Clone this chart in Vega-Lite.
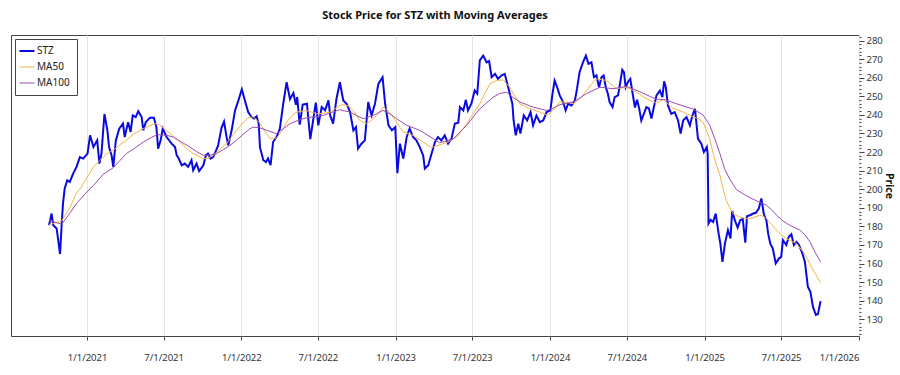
{
  "$schema": "https://vega.github.io/schema/vega-lite/v6.json",
  "width": 848,
  "height": 301,
  "autosize": {"type": "none"},
  "padding": {"left": 11, "top": 35, "right": 41, "bottom": 39},
  "background": "white",
  "config": {
    "font": "Noto Sans",
    "view": {"stroke": "#444444", "strokeWidth": 1}
  },
  "title": {
    "text": "Stock Price for STZ with Moving Averages",
    "fontSize": 11,
    "fontWeight": "bold",
    "font": "Noto Sans",
    "color": "#111111",
    "anchor": "middle",
    "offset": 14
  },
  "datasets": {
    "stz": [
      {"d":"2020-10-03","v":180.6},{"d":"2020-10-09","v":186.9},{"d":"2020-10-13","v":180.6},{"d":"2020-10-21","v":178.9},{"d":"2020-10-29","v":165.1},{"d":"2020-11-02","v":181.5},{"d":"2020-11-05","v":192.3},{"d":"2020-11-09","v":200.4},{"d":"2020-11-15","v":204.8},{"d":"2020-11-21","v":203.9},{"d":"2020-11-29","v":208.4},{"d":"2020-12-07","v":212},{"d":"2020-12-15","v":217.3},{"d":"2020-12-23","v":216.5},
      {"d":"2021-01-02","v":219.2},{"d":"2021-01-08","v":229},{"d":"2021-01-16","v":222.7},{"d":"2021-01-25","v":226.3},{"d":"2021-01-30","v":213.8},{"d":"2021-02-04","v":219.2},{"d":"2021-02-11","v":240.5},{"d":"2021-02-18","v":231.7},{"d":"2021-02-22","v":222.7},{"d":"2021-02-28","v":218.2},{"d":"2021-03-04","v":212},{"d":"2021-03-10","v":226.3},{"d":"2021-03-18","v":232.6},{"d":"2021-03-27","v":235.3},{"d":"2021-03-31","v":228.1},{"d":"2021-04-08","v":236.1},{"d":"2021-04-14","v":230.8},{"d":"2021-04-19","v":239.7},{"d":"2021-04-26","v":238.8},{"d":"2021-05-02","v":242},{"d":"2021-05-10","v":238.8},{"d":"2021-05-14","v":231.7},{"d":"2021-05-20","v":236.1},{"d":"2021-05-30","v":238.5},{"d":"2021-06-08","v":238.5},{"d":"2021-06-14","v":233.4},{"d":"2021-06-18","v":221.8},{"d":"2021-06-24","v":226.3},{"d":"2021-06-29","v":232.6},{"d":"2021-07-08","v":228.1},{"d":"2021-07-20","v":224.5},{"d":"2021-07-28","v":222.7},{"d":"2021-08-01","v":218.2},{"d":"2021-08-04","v":217.3},{"d":"2021-08-13","v":212.9},{"d":"2021-08-20","v":213.8},{"d":"2021-08-28","v":212},{"d":"2021-09-05","v":215.6},{"d":"2021-09-09","v":210.2},{"d":"2021-09-17","v":213.8},{"d":"2021-09-23","v":209.8},{"d":"2021-10-03","v":212.9},{"d":"2021-10-09","v":218.2},{"d":"2021-10-14","v":219.2},{"d":"2021-10-20","v":216.5},{"d":"2021-10-26","v":217.3},{"d":"2021-10-30","v":219.2},{"d":"2021-11-07","v":223.6},{"d":"2021-11-15","v":233},{"d":"2021-11-21","v":236.4},{"d":"2021-11-27","v":228},{"d":"2021-12-01","v":223.6},{"d":"2021-12-09","v":231.7},{"d":"2021-12-17","v":242.4},{"d":"2021-12-25","v":247.8},
      {"d":"2022-01-02","v":253.8},{"d":"2022-01-09","v":248},{"d":"2022-01-17","v":241.5},{"d":"2022-01-25","v":238.8},{"d":"2022-01-31","v":238},{"d":"2022-02-06","v":239.2},{"d":"2022-02-11","v":235.3},{"d":"2022-02-14","v":222.5},{"d":"2022-02-22","v":215.6},{"d":"2022-02-28","v":214.6},{"d":"2022-03-05","v":216.5},{"d":"2022-03-11","v":212.9},{"d":"2022-03-17","v":225.4},{"d":"2022-03-25","v":228.1},{"d":"2022-04-02","v":232.6},{"d":"2022-04-10","v":246},{"d":"2022-04-18","v":257.6},{"d":"2022-04-26","v":248.5},{"d":"2022-05-04","v":251.8},{"d":"2022-05-10","v":245.5},{"d":"2022-05-13","v":249.6},{"d":"2022-05-19","v":234.8},{"d":"2022-05-26","v":245.5},{"d":"2022-06-05","v":246},{"d":"2022-06-13","v":227},{"d":"2022-06-21","v":239},{"d":"2022-06-26","v":246.6},{"d":"2022-07-02","v":234.4},{"d":"2022-07-10","v":244.2},{"d":"2022-07-18","v":242.4},{"d":"2022-07-26","v":247.8},{"d":"2022-07-30","v":239.7},{"d":"2022-08-06","v":235.3},{"d":"2022-08-14","v":248.7},{"d":"2022-08-22","v":257.6},{"d":"2022-08-30","v":247.8},{"d":"2022-09-07","v":246},{"d":"2022-09-15","v":241.5},{"d":"2022-09-23","v":231.7},{"d":"2022-09-29","v":233.4},{"d":"2022-10-04","v":221.8},{"d":"2022-10-12","v":224.5},{"d":"2022-10-20","v":226.3},{"d":"2022-10-28","v":246.9},{"d":"2022-11-05","v":239.7},{"d":"2022-11-13","v":246},{"d":"2022-11-21","v":256.7},{"d":"2022-12-01","v":260.3},{"d":"2022-12-07","v":246},{"d":"2022-12-15","v":234.4},{"d":"2022-12-23","v":231.7},{"d":"2022-12-31","v":233.4},
      {"d":"2023-01-05","v":208.6},{"d":"2023-01-11","v":224.5},{"d":"2023-01-19","v":216.5},{"d":"2023-01-27","v":228.1},{"d":"2023-02-03","v":232.6},{"d":"2023-02-11","v":228.1},{"d":"2023-02-19","v":226.3},{"d":"2023-02-27","v":222.7},{"d":"2023-03-07","v":218.2},{"d":"2023-03-11","v":211.1},{"d":"2023-03-19","v":212.9},{"d":"2023-03-27","v":219.2},{"d":"2023-04-04","v":225.4},{"d":"2023-04-11","v":228.1},{"d":"2023-04-19","v":226.3},{"d":"2023-04-27","v":229},{"d":"2023-05-05","v":224.5},{"d":"2023-05-13","v":227.2},{"d":"2023-05-21","v":235.3},{"d":"2023-05-29","v":235.8},{"d":"2023-06-02","v":244.2},{"d":"2023-06-10","v":242.4},{"d":"2023-06-16","v":248.1},{"d":"2023-06-21","v":242.4},{"d":"2023-06-29","v":246},{"d":"2023-07-07","v":253.1},{"d":"2023-07-13","v":251.4},{"d":"2023-07-19","v":269.3},{"d":"2023-07-27","v":271.9},{"d":"2023-08-04","v":268.3},{"d":"2023-08-10","v":269},{"d":"2023-08-16","v":260.3},{"d":"2023-08-24","v":262.1},{"d":"2023-08-31","v":259.4},{"d":"2023-09-08","v":261.2},{"d":"2023-09-16","v":262.1},{"d":"2023-09-20","v":258.5},{"d":"2023-09-28","v":251.4},{"d":"2023-10-04","v":246},{"d":"2023-10-07","v":237},{"d":"2023-10-12","v":229},{"d":"2023-10-18","v":235.3},{"d":"2023-10-23","v":229.9},{"d":"2023-10-31","v":239.7},{"d":"2023-11-08","v":237},{"d":"2023-11-16","v":241.5},{"d":"2023-11-22","v":234.4},{"d":"2023-11-30","v":239.7},{"d":"2023-12-08","v":236.1},{"d":"2023-12-16","v":237},{"d":"2023-12-24","v":241.5},
      {"d":"2024-01-02","v":242.4},{"d":"2024-01-07","v":251.4},{"d":"2024-01-12","v":258.5},{"d":"2024-01-18","v":254.9},{"d":"2024-01-24","v":250.5},{"d":"2024-02-01","v":246.9},{"d":"2024-02-07","v":242.4},{"d":"2024-02-13","v":246},{"d":"2024-02-21","v":245.1},{"d":"2024-02-29","v":247.8},{"d":"2024-03-05","v":254.1},{"d":"2024-03-11","v":263},{"d":"2024-03-19","v":268.3},{"d":"2024-03-26","v":271.9},{"d":"2024-04-01","v":267.5},{"d":"2024-04-08","v":268.3},{"d":"2024-04-14","v":260.3},{"d":"2024-04-20","v":261.2},{"d":"2024-04-26","v":254.9},{"d":"2024-05-02","v":260.3},{"d":"2024-05-07","v":261.2},{"d":"2024-05-12","v":254.9},{"d":"2024-05-17","v":251.4},{"d":"2024-05-21","v":246.9},{"d":"2024-05-28","v":244.2},{"d":"2024-06-02","v":249.6},{"d":"2024-06-10","v":250.5},{"d":"2024-06-14","v":255.8},{"d":"2024-06-20","v":264.3},{"d":"2024-06-24","v":263},{"d":"2024-06-28","v":254.9},{"d":"2024-07-04","v":258},{"d":"2024-07-09","v":259.4},{"d":"2024-07-14","v":252.2},{"d":"2024-07-20","v":244},{"d":"2024-07-25","v":248.2},{"d":"2024-07-30","v":243.5},{"d":"2024-08-04","v":237},{"d":"2024-08-10","v":240.6},{"d":"2024-08-16","v":244.2},{"d":"2024-08-22","v":243.5},{"d":"2024-08-28","v":238},{"d":"2024-09-01","v":242.4},{"d":"2024-09-09","v":250.5},{"d":"2024-09-17","v":253.1},{"d":"2024-09-23","v":249.6},{"d":"2024-09-27","v":258.1},{"d":"2024-10-01","v":254.9},{"d":"2024-10-06","v":245.1},{"d":"2024-10-14","v":240.6},{"d":"2024-10-22","v":241.5},{"d":"2024-10-30","v":237},{"d":"2024-11-05","v":229.9},{"d":"2024-11-11","v":237},{"d":"2024-11-19","v":238.8},{"d":"2024-11-27","v":234.4},{"d":"2024-12-03","v":239.7},{"d":"2024-12-09","v":243.3},{"d":"2024-12-16","v":227.2},{"d":"2024-12-24","v":224.5},{"d":"2024-12-30","v":220},
      {"d":"2025-01-06","v":222.7},{"d":"2025-01-08","v":219.2},{"d":"2025-01-10","v":181.5},{"d":"2025-01-15","v":183.5},{"d":"2025-01-21","v":182.4},{"d":"2025-01-27","v":186.9},{"d":"2025-02-03","v":176},{"d":"2025-02-07","v":170.8},{"d":"2025-02-12","v":160.9},{"d":"2025-02-18","v":171},{"d":"2025-02-25","v":178},{"d":"2025-03-03","v":173.5},{"d":"2025-03-07","v":188.2},{"d":"2025-03-14","v":182.8},{"d":"2025-03-20","v":179.3},{"d":"2025-03-26","v":183.3},{"d":"2025-04-01","v":184},{"d":"2025-04-07","v":171.2},{"d":"2025-04-11","v":185.5},{"d":"2025-04-18","v":186},{"d":"2025-04-26","v":186.9},{"d":"2025-05-02","v":187.3},{"d":"2025-05-09","v":189.6},{"d":"2025-05-15","v":195},{"d":"2025-05-21","v":186.5},{"d":"2025-05-27","v":183.3},{"d":"2025-05-31","v":176.2},{"d":"2025-06-05","v":170.8},{"d":"2025-06-11","v":168.1},{"d":"2025-06-18","v":160.1},{"d":"2025-06-26","v":162.8},{"d":"2025-07-01","v":163.6},{"d":"2025-07-05","v":172.6},{"d":"2025-07-13","v":170},{"d":"2025-07-19","v":174.4},{"d":"2025-07-25","v":175.8},{"d":"2025-07-31","v":170},{"d":"2025-08-06","v":171.7},{"d":"2025-08-12","v":170},{"d":"2025-08-20","v":165.5},{"d":"2025-08-26","v":160.9},{"d":"2025-09-02","v":147.5},{"d":"2025-09-08","v":144.8},{"d":"2025-09-14","v":136.8},{"d":"2025-09-21","v":132.3},{"d":"2025-09-26","v":132.8},{"d":"2025-10-02","v":139.8}
    ],
    "ma50": [
      {"d":"2020-10-03","v":181},{"d":"2020-10-21","v":182},{"d":"2020-11-02","v":183},{"d":"2020-11-21","v":190},{"d":"2020-12-07","v":198},{"d":"2020-12-15","v":200},{"d":"2020-12-31","v":206},{"d":"2021-01-16","v":212},{"d":"2021-01-31","v":215.5},{"d":"2021-02-16","v":219},{"d":"2021-03-04","v":221},{"d":"2021-03-20","v":224},{"d":"2021-04-04","v":226.3},{"d":"2021-04-20","v":229.5},{"d":"2021-05-06","v":231.7},{"d":"2021-05-22","v":233.5},{"d":"2021-06-10","v":235.3},{"d":"2021-06-22","v":234.5},{"d":"2021-07-08","v":231.5},{"d":"2021-07-24","v":228.5},{"d":"2021-08-08","v":225.4},{"d":"2021-08-24","v":222},{"d":"2021-09-09","v":219.2},{"d":"2021-10-03","v":216.5},{"d":"2021-10-14","v":216.6},{"d":"2021-10-26","v":218.2},{"d":"2021-11-11","v":221.5},{"d":"2021-11-27","v":224.5},{"d":"2021-12-13","v":229.5},{"d":"2021-12-29","v":234},
      {"d":"2022-01-17","v":238.5},{"d":"2022-01-29","v":239},{"d":"2022-02-14","v":235.5},{"d":"2022-02-26","v":231},{"d":"2022-03-10","v":227.2},{"d":"2022-03-25","v":227.5},{"d":"2022-04-06","v":231},{"d":"2022-04-18","v":236.1},{"d":"2022-04-30","v":239.5},{"d":"2022-05-12","v":241.5},{"d":"2022-06-04","v":242.4},{"d":"2022-06-28","v":240.6},{"d":"2022-07-14","v":240.8},{"d":"2022-07-30","v":241.5},{"d":"2022-08-22","v":245.1},{"d":"2022-09-03","v":245.6},{"d":"2022-09-15","v":244.2},{"d":"2022-09-27","v":241},{"d":"2022-10-08","v":237},{"d":"2022-10-24","v":235.3},{"d":"2022-11-05","v":237},{"d":"2022-11-17","v":239.7},{"d":"2022-12-02","v":244.2},{"d":"2022-12-15","v":242},{"d":"2022-12-26","v":238.8},
      {"d":"2023-01-07","v":234.5},{"d":"2023-01-19","v":230.8},{"d":"2023-02-11","v":229},{"d":"2023-03-07","v":225.4},{"d":"2023-03-27","v":222.4},{"d":"2023-04-15","v":223.8},{"d":"2023-05-09","v":225.8},{"d":"2023-05-29","v":229},{"d":"2023-06-18","v":235.3},{"d":"2023-07-03","v":240.5},{"d":"2023-07-19","v":246},{"d":"2023-07-31","v":251.5},{"d":"2023-08-12","v":256.7},{"d":"2023-08-28","v":258.5},{"d":"2023-09-12","v":258.9},{"d":"2023-09-28","v":254.9},{"d":"2023-10-10","v":250},{"d":"2023-10-22","v":246},{"d":"2023-11-14","v":243.3},{"d":"2023-12-08","v":241.5},{"d":"2023-12-27","v":239.7},
      {"d":"2024-01-08","v":242.5},{"d":"2024-01-24","v":246.9},{"d":"2024-02-09","v":247},{"d":"2024-02-25","v":246},{"d":"2024-03-11","v":248.5},{"d":"2024-03-27","v":253.1},{"d":"2024-04-08","v":256.5},{"d":"2024-04-20","v":259.4},{"d":"2024-05-14","v":258.5},{"d":"2024-06-06","v":254.1},{"d":"2024-06-30","v":254.9},{"d":"2024-07-24","v":252.2},{"d":"2024-08-09","v":249.6},{"d":"2024-08-24","v":247.8},{"d":"2024-09-09","v":246.5},{"d":"2024-09-25","v":248.2},{"d":"2024-10-18","v":243.5},{"d":"2024-11-11","v":241.5},{"d":"2024-11-27","v":239.7},{"d":"2024-12-16","v":238},{"d":"2024-12-28","v":236},
      {"d":"2025-01-05","v":231.7},{"d":"2025-01-13","v":227},{"d":"2025-01-21","v":219.2},{"d":"2025-01-29","v":213},{"d":"2025-02-06","v":207.5},{"d":"2025-02-13","v":200.5},{"d":"2025-02-21","v":194.1},{"d":"2025-03-01","v":190},{"d":"2025-03-09","v":186.9},{"d":"2025-03-25","v":185},{"d":"2025-04-10","v":184.2},{"d":"2025-04-25","v":184.5},{"d":"2025-05-11","v":186},{"d":"2025-05-19","v":185.5},{"d":"2025-05-27","v":184.2},{"d":"2025-06-08","v":181},{"d":"2025-06-20","v":178},{"d":"2025-07-01","v":175.5},{"d":"2025-07-13","v":173.5},{"d":"2025-08-06","v":170.8},{"d":"2025-08-22","v":166.3},{"d":"2025-09-01","v":162.5},{"d":"2025-09-10","v":158.3},{"d":"2025-09-21","v":154},{"d":"2025-10-02","v":149.7}
    ],
    "ma100": [
      {"d":"2020-10-03","v":183.3},{"d":"2020-10-21","v":182},{"d":"2020-11-02","v":181.2},{"d":"2020-11-21","v":187},{"d":"2020-12-07","v":192.3},{"d":"2020-12-27","v":197.5},{"d":"2021-01-16","v":202},{"d":"2021-02-08","v":208},{"d":"2021-03-04","v":211.6},{"d":"2021-03-20","v":215.5},{"d":"2021-04-04","v":219.2},{"d":"2021-04-20","v":221.5},{"d":"2021-05-14","v":225.4},{"d":"2021-05-30","v":227.5},{"d":"2021-06-16","v":229.4},{"d":"2021-07-08","v":229},{"d":"2021-07-24","v":228.1},{"d":"2021-08-08","v":226},{"d":"2021-09-01","v":222.7},{"d":"2021-09-17","v":220.3},{"d":"2021-10-03","v":218.2},{"d":"2021-10-18","v":218.3},{"d":"2021-11-03","v":219.2},{"d":"2021-11-19","v":221.3},{"d":"2021-12-05","v":223.6},{"d":"2021-12-21","v":226.5},
      {"d":"2022-01-05","v":229.5},{"d":"2022-01-21","v":232.5},{"d":"2022-01-29","v":233.4},{"d":"2022-02-14","v":233},{"d":"2022-03-02","v":231.7},{"d":"2022-03-25","v":229.9},{"d":"2022-04-10","v":232.5},{"d":"2022-04-26","v":235.3},{"d":"2022-05-15","v":237},{"d":"2022-06-04","v":238.5},{"d":"2022-06-24","v":239},{"d":"2022-07-14","v":239.7},{"d":"2022-08-02","v":241.3},{"d":"2022-08-22","v":242.8},{"d":"2022-09-15","v":241.5},{"d":"2022-09-30","v":239.7},{"d":"2022-10-16","v":238},{"d":"2022-11-09","v":239.7},{"d":"2022-12-02","v":242.4},{"d":"2022-12-19","v":240.5},
      {"d":"2023-01-03","v":238},{"d":"2023-01-27","v":234.4},{"d":"2023-02-27","v":231.7},{"d":"2023-03-31","v":227.2},{"d":"2023-04-15","v":225},{"d":"2023-05-17","v":227},{"d":"2023-06-18","v":234.4},{"d":"2023-07-19","v":243.3},{"d":"2023-08-20","v":249.6},{"d":"2023-09-04","v":251.5},{"d":"2023-09-20","v":252.2},{"d":"2023-10-05","v":249.5},{"d":"2023-10-22","v":246.9},{"d":"2023-11-22","v":244.2},{"d":"2023-12-24","v":242.4},
      {"d":"2024-01-08","v":243.5},{"d":"2024-01-24","v":245.5},{"d":"2024-02-25","v":246.9},{"d":"2024-03-11","v":249},{"d":"2024-03-27","v":251.4},{"d":"2024-04-28","v":254.9},{"d":"2024-05-29","v":254.1},{"d":"2024-06-30","v":255.3},{"d":"2024-07-31","v":252.5},{"d":"2024-08-24","v":250},{"d":"2024-09-09","v":248.5},{"d":"2024-09-29","v":248.2},{"d":"2024-10-26","v":246},{"d":"2024-12-04","v":243.2},{"d":"2024-12-28","v":240},
      {"d":"2025-01-13","v":234.5},{"d":"2025-01-25","v":227},{"d":"2025-02-06","v":219.2},{"d":"2025-02-17","v":211},{"d":"2025-03-01","v":205.5},{"d":"2025-03-17","v":199.8},{"d":"2025-04-02","v":197.5},{"d":"2025-04-18","v":195.4},{"d":"2025-05-11","v":193},{"d":"2025-05-27","v":191.4},{"d":"2025-06-08","v":189},{"d":"2025-06-20","v":186},{"d":"2025-07-05","v":183},{"d":"2025-07-21","v":180.6},{"d":"2025-08-14","v":178},{"d":"2025-08-26","v":175.5},{"d":"2025-09-07","v":171.7},{"d":"2025-09-18","v":166.5},{"d":"2025-10-02","v":160.9}
    ]
  },
  "encoding": {
    "x": {
      "field": "d",
      "type": "temporal",
      "title": null,
      "scale": {
        "type": "utc",
        "domain": [
          {"year": 2020, "month": 7, "date": 5, "utc": true},
          {"year": 2026, "month": 1, "date": 1, "utc": true}
        ]
      },
      "axis": {
        "values": [
          {"year": 2021, "month": 1, "date": 1, "utc": true},
          {"year": 2021, "month": 7, "date": 1, "utc": true},
          {"year": 2022, "month": 1, "date": 1, "utc": true},
          {"year": 2022, "month": 7, "date": 1, "utc": true},
          {"year": 2023, "month": 1, "date": 1, "utc": true},
          {"year": 2023, "month": 7, "date": 1, "utc": true},
          {"year": 2024, "month": 1, "date": 1, "utc": true},
          {"year": 2024, "month": 7, "date": 1, "utc": true},
          {"year": 2025, "month": 1, "date": 1, "utc": true},
          {"year": 2025, "month": 7, "date": 1, "utc": true},
          {"year": 2026, "month": 1, "date": 1, "utc": true}
        ],
        "format": "%-m/%-d/%Y",
        "grid": true,
        "gridColor": "#e4e4e4",
        "gridWidth": 1,
        "domain": false,
        "tickSize": 4,
        "tickColor": "#444444",
        "labelPadding": 12,
        "labelFontSize": 9.5,
        "labelColor": "#333333",
        "labelFont": "Noto Sans"
      }
    },
    "y": {
      "field": "v",
      "type": "quantitative",
      "title": "Price",
      "scale": {"domain": [121, 283], "nice": false, "zero": false},
      "axis": {
        "orient": "right",
        "values": [122,124,126,128,130,132,134,136,138,140,142,144,146,148,150,152,154,156,158,160,162,164,166,168,170,172,174,176,178,180,182,184,186,188,190,192,194,196,198,200,202,204,206,208,210,212,214,216,218,220,222,224,226,228,230,232,234,236,238,240,242,244,246,248,250,252,254,256,258,260,262,264,266,268,270,272,274,276,278,280,282],
        "labelExpr": "datum.value % 10 === 0 ? datum.label : ''",
        "tickSize": {"condition": {"test": "datum.value % 10 === 0", "value": 5}, "value": 2},
        "tickColor": "#444444",
        "grid": false,
        "domain": false,
        "labelPadding": 2,
        "labelFontSize": 9.5,
        "labelColor": "#333333",
        "labelFont": "Noto Sans",
        "titleFont": "Noto Sans",
        "titleFontSize": 10.5,
        "titleFontWeight": "bold",
        "titleColor": "#111111",
        "titleAngle": 90,
        "titlePadding": 1
      }
    }
  },
  "layer": [
    {
      "data": {"name": "stz"},
      "mark": {"type": "line", "strokeWidth": 2, "clip": true},
      "encoding": {
        "color": {
          "datum": "STZ",
          "scale": {"domain": ["STZ", "MA50", "MA100"], "range": ["#0a0ae0", "#f5b342", "#9b4db5"]},
          "legend": {
            "title": null,
            "orient": "top-left",
            "offset": 4,
            "padding": 7,
            "strokeColor": "#444444",
            "fillColor": "white",
            "symbolType": "stroke",
            "symbolSize": 225,
            "labelFontSize": 10,
            "labelFont": "Noto Sans",
            "labelColor": "#222222",
            "labelOffset": 5,
            "rowPadding": 6,
            "labelLimit": 60,
            "encode": {"symbols": {"update": {"strokeWidth": {"signal": "datum.value === 'STZ' ? 2 : 1"}}}}
          }
        }
      }
    },
    {
      "data": {"name": "ma50"},
      "mark": {"type": "line", "strokeWidth": 1, "clip": true},
      "encoding": {"color": {"datum": "MA50"}}
    },
    {
      "data": {"name": "ma100"},
      "mark": {"type": "line", "strokeWidth": 1, "clip": true},
      "encoding": {"color": {"datum": "MA100"}}
    }
  ]
}
